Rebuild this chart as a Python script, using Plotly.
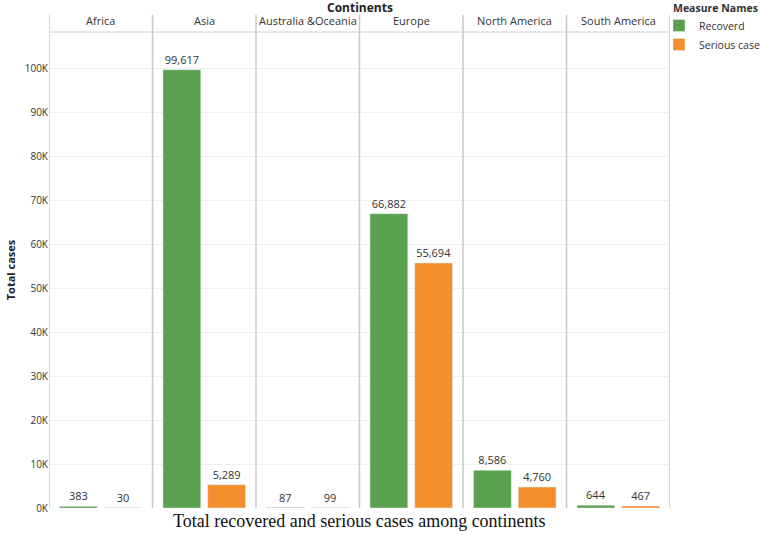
import plotly.graph_objects as go

continents = ["Africa", "Asia", "Australia &Oceania", "Europe", "North America", "South America"]
recovered = [383, 99617, 87, 66882, 8586, 644]
serious = [30, 5289, 99, 55694, 4760, 467]
tick_vals = [0, 10000, 20000, 30000, 40000, 50000, 60000, 70000, 80000, 90000, 100000]
tick_text = ["0K", "10K", "20K", "30K", "40K", "50K", "60K", "70K", "80K", "90K", "100K"]

FONT = "Open Sans"
GREEN = "#59a14f"
ORANGE = "#f28e2b"

fig = go.Figure()
fig.add_trace(go.Bar(
    x=continents, y=recovered, name="Recoverd", marker_color=GREEN,
    text=[f"{v:,}" for v in recovered], textposition="outside",
    textfont=dict(family=FONT, size=11, color="#333333"), cliponaxis=False,
))
fig.add_trace(go.Bar(
    x=continents, y=serious, name="Serious case", marker_color=ORANGE,
    text=[f"{v:,}" for v in serious], textposition="outside",
    textfont=dict(family=FONT, size=11, color="#333333"), cliponaxis=False,
))

shapes = []
for i in range(len(continents) + 1):
    shapes.append(dict(type="line", xref="x", yref="paper", x0=i - 0.5, x1=i - 0.5,
                       y0=0, y1=1.036, line=dict(color="#c8c8c8", width=1.5)))
shapes.append(dict(type="line", xref="paper", yref="paper", x0=0, x1=1, y0=1, y1=1,
                   line=dict(color="#d0d0d0", width=1)))

annotations = []
for c in continents:
    annotations.append(dict(x=c, y=1.0, xref="x", yref="paper", text=c, showarrow=False,
                            yanchor="bottom", yshift=2,
                            font=dict(family=FONT, size=11, color="#333333")))
annotations.append(dict(x=0.5, y=1.0, xref="paper", yref="paper", text="<b>Continents</b>",
                        showarrow=False, yanchor="bottom", yshift=14,
                        font=dict(family=FONT, size=12, color="#222222")))
annotations.append(dict(x=0.5, y=0, xref="paper", yref="paper",
                        text="Total recovered and serious cases among continents",
                        showarrow=False, yanchor="top", yshift=-1,
                        font=dict(family="Liberation Serif", size=18, color="#111111")))
annotations.append(dict(x=(671 - 49) / 621, y=(508 - 8) / 476, xref="paper", yref="paper",
                        text="<b>Measure Names</b>",
                        showarrow=False, xanchor="left", yanchor="middle",
                        font=dict(family=FONT, size=10.5, color="#333333")))

fig.update_layout(
    width=761, height=535,
    margin=dict(l=49, r=91, t=32, b=27, autoexpand=False),
    plot_bgcolor="white", paper_bgcolor="white",
    barmode="group", bargap=0.135, bargroupgap=0.155,
    shapes=shapes, annotations=annotations,
    font=dict(family=FONT, size=11, color="#333333"),
    legend=dict(x=(659 - 49) / 621, y=(508 - 11) / 476, xanchor="left", yanchor="top",
                font=dict(family=FONT, size=10.5, color="#333333"),
                itemwidth=30, tracegroupgap=0, bgcolor="rgba(0,0,0,0)"),
    xaxis=dict(showticklabels=False, showgrid=False, zeroline=False, showline=False,
               range=[-0.5, 5.5], fixedrange=True, automargin=False),
    yaxis=dict(range=[0, 108200], tickvals=tick_vals, ticktext=tick_text, automargin=False,
               showgrid=True, gridcolor="#efefef", zeroline=False, showline=False,
               ticks="", ticklen=0, fixedrange=True,
               tickfont=dict(family=FONT, size=10, color="#333333"),
               title=dict(text="<b>Total cases</b>", standoff=6,
                          font=dict(family=FONT, size=11, color="#222222"))),
)

fig.write_html("out.html", config={"displayModeBar": False},
               post_script="document.body.style.margin='0';document.body.style.overflow='hidden';")
